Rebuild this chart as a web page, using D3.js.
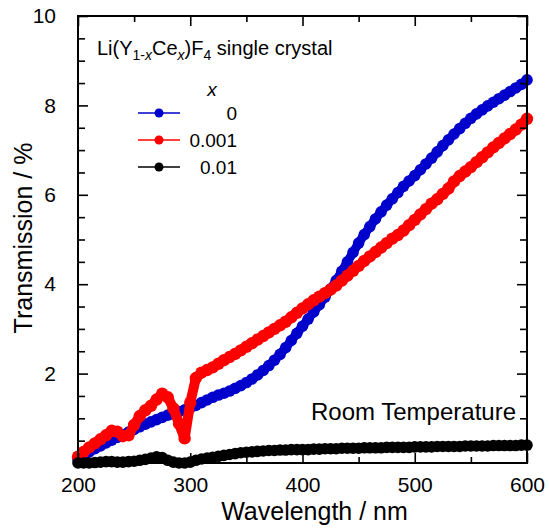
<!DOCTYPE html>
<html lang="en">
  <head>
    <meta charset="UTF-8" />
    <title>Transmission spectra</title>
    <style>
      body { margin: 0; background: #fff; }
      svg { font-family: "Liberation Sans", Arial, sans-serif; }
    </style>
  </head>
  <body>
    <div id="chart"></div>

    <script src="https://d3js.org/d3.v7.min.js"></script>
    <script>

    // wavelengths, every 5 nm from 200 to 600
    var wavelengths = [
      200,205,210,215,220,225,230,235,240,245,250,255,260,265,270,275,280,285,290,295,
      300,305,310,315,320,325,330,335,340,345,350,355,360,365,370,375,380,385,390,395,
      400,405,410,415,420,425,430,435,440,445,450,455,460,465,470,475,480,485,490,495,
      500,505,510,515,520,525,530,535,540,545,550,555,560,565,570,575,580,585,590,595,600
    ];

    // x = 0
    var trans0 = [
      0.08,0.17,0.25,0.32,0.38,0.45,0.51,0.57,0.63,0.69,0.75,0.81,0.87,0.92,0.97,1.02,1.07,1.11,1.15,1.19,
      1.23,1.29,1.35,1.41,1.47,1.52,1.56,1.61,1.67,1.73,1.80,1.88,1.97,2.07,2.18,2.30,2.43,2.58,2.74,2.90,
      3.06,3.22,3.38,3.54,3.71,3.89,4.08,4.29,4.50,4.71,4.92,5.11,5.29,5.46,5.62,5.77,5.91,6.05,6.19,6.31,
      6.43,6.56,6.69,6.82,6.96,7.10,7.23,7.36,7.48,7.60,7.71,7.81,7.90,7.99,8.07,8.15,8.23,8.31,8.39,8.47,8.57
    ];

    // x = 0.001
    var trans001 = [
      0.14,0.25,0.35,0.44,0.53,0.62,0.72,0.70,0.60,0.62,0.85,1.05,1.18,1.28,1.42,1.55,1.47,1.22,0.88,0.55,
      1.35,1.90,2.02,2.08,2.14,2.22,2.30,2.37,2.44,2.52,2.60,2.68,2.76,2.84,2.92,3.00,3.08,3.16,3.26,3.36,
      3.46,3.55,3.64,3.72,3.80,3.88,3.97,4.08,4.19,4.30,4.41,4.52,4.62,4.72,4.82,4.92,5.02,5.10,5.20,5.32,
      5.44,5.56,5.68,5.80,5.90,6.02,6.14,6.30,6.42,6.52,6.62,6.73,6.84,6.95,7.06,7.16,7.26,7.36,7.46,7.57,7.70
    ];

    // x = 0.01
    var trans01 = [
      0.00,0.00,0.00,0.01,0.02,0.03,0.03,0.02,0.02,0.03,0.04,0.06,0.08,0.11,0.14,0.12,0.06,0.02,0.00,0.00,
      0.02,0.06,0.09,0.11,0.13,0.15,0.17,0.19,0.21,0.23,0.24,0.25,0.26,0.27,0.28,0.28,0.29,0.29,0.30,0.30,
      0.30,0.30,0.31,0.31,0.32,0.32,0.32,0.33,0.33,0.33,0.33,0.34,0.34,0.34,0.34,0.35,0.35,0.35,0.35,0.35,
      0.36,0.36,0.36,0.36,0.37,0.37,0.37,0.37,0.37,0.38,0.38,0.38,0.38,0.38,0.39,0.39,0.39,0.39,0.39,0.40,0.40
    ];

    var seriesNames = ["0", "0.001", "0.01"];
    var seriesColors = ["#0000cc", "#ff0000", "#000000"];
    var xMajorTicks = [200, 300, 400, 500, 600];
    var xMinorTicks = [250, 350, 450, 550];
    var yMajorTicks = [2, 4, 6, 8, 10];
    var yMinorTicks = [0.5,1,1.5,2.5,3,3.5,4.5,5,5.5,6.5,7,7.5,8.5,9,9.5];

    // plot box ("top" is taken by window, so px* names)
    var w = 549, h = 530;
    var pxL = 78, pxR = 527, pxT = 16, pxB = 463;

    var svg = d3.select("#chart")
                .append("svg")
                .attr("width", w)
                .attr("height", h);

    var xScale = d3.scaleLinear().domain([200, 600]).range([pxL, pxR]);
    var yScale = d3.scaleLinear().domain([0, 10]).range([pxB, pxT]);

    // the dense markers in the original merge into a thick band:
    // a wide line under big dots gives the same look
    var allSeries = [trans0, trans001, trans01];
    allSeries.forEach(function(vals, i) {
      var pts = wavelengths.map(function(wl, j) { return [wl, vals[j]]; });
      var g = svg.append("g");
      g.append("path")
       .datum(pts)
       .attr("fill", "none")
       .attr("stroke", seriesColors[i])
       .attr("stroke-width", i == 1 ? 10 : 9)
       .attr("stroke-linejoin", "round")
       .attr("stroke-linecap", "round")
       .attr("d", d3.line().x(function(d) { return xScale(d[0]); })
                           .y(function(d) { return yScale(d[1]); }));
      g.selectAll("circle")
       .data(pts)
       .enter()
       .append("circle")
       .attr("cx", function(d) { return xScale(d[0]); })
       .attr("cy", function(d) { return yScale(d[1]); })
       .attr("r", i == 1 ? 6.2 : 5.8)
       .attr("fill", seriesColors[i]);
    });

    // axes, ticks point inward on all four sides
    function styleAxis(g) {
      g.select(".domain").remove();
      g.selectAll(".tick line").attr("stroke", "#000").attr("stroke-width", 1.6);
      g.selectAll(".tick text").attr("font-size", 21).attr("fill", "#000")
       .attr("font-family", "Liberation Sans, Arial, sans-serif");
    }

    svg.append("g")
       .attr("transform", "translate(0," + pxB + ")")
       .call(d3.axisBottom(xScale).tickValues(xMajorTicks).tickSizeInner(-10).tickSizeOuter(0).tickPadding(14))
       .call(styleAxis);
    svg.append("g")
       .attr("transform", "translate(0," + pxB + ")")
       .call(d3.axisBottom(xScale).tickValues(xMinorTicks).tickSizeInner(-6).tickSizeOuter(0).tickFormat(""))
       .call(styleAxis);
    svg.append("g")
       .attr("transform", "translate(0," + pxT + ")")
       .call(d3.axisTop(xScale).tickValues(xMajorTicks).tickSizeInner(-10).tickSizeOuter(0).tickFormat(""))
       .call(styleAxis);
    svg.append("g")
       .attr("transform", "translate(0," + pxT + ")")
       .call(d3.axisTop(xScale).tickValues(xMinorTicks).tickSizeInner(-6).tickSizeOuter(0).tickFormat(""))
       .call(styleAxis);

    svg.append("g")
       .attr("transform", "translate(" + pxL + ",0)")
       .call(d3.axisLeft(yScale).tickValues(yMajorTicks).tickSizeInner(-10).tickSizeOuter(0).tickPadding(22))
       .call(styleAxis);
    svg.append("g")
       .attr("transform", "translate(" + pxL + ",0)")
       .call(d3.axisLeft(yScale).tickValues(yMinorTicks).tickSizeInner(-7).tickSizeOuter(0).tickFormat(""))
       .call(styleAxis);
    svg.append("g")
       .attr("transform", "translate(" + pxR + ",0)")
       .call(d3.axisRight(yScale).tickValues(yMajorTicks).tickSizeInner(-10).tickSizeOuter(0).tickFormat(""))
       .call(styleAxis);
    svg.append("g")
       .attr("transform", "translate(" + pxR + ",0)")
       .call(d3.axisRight(yScale).tickValues(yMinorTicks).tickSizeInner(-7).tickSizeOuter(0).tickFormat(""))
       .call(styleAxis);

    // frame
    svg.append("rect")
       .attr("x", pxL).attr("y", pxT)
       .attr("width", pxR - pxL).attr("height", pxB - pxT)
       .attr("fill", "none")
       .attr("stroke", "#000")
       .attr("stroke-width", 2);

    // axis titles
    svg.append("text")
       .attr("x", (pxL + pxR) / 2 + 12)
       .attr("y", 520)
       .attr("text-anchor", "middle")
       .attr("font-size", 25)
       .text("Wavelength / nm");

    svg.append("text")
       .attr("transform", "translate(32," + 238 + ") rotate(-90)")
       .attr("text-anchor", "middle")
       .attr("font-size", 25)
       .text("Transmission / %");

    // sample label with subscripts
    var lab = svg.append("text")
                 .attr("x", 97)
                 .attr("y", 55)
                 .attr("font-size", 20);
    lab.append("tspan").text("Li(Y");
    lab.append("tspan").attr("font-size", 14).attr("dy", 5).text("1-");
    lab.append("tspan").attr("font-size", 14).attr("font-style", "italic").text("x");
    lab.append("tspan").attr("dy", -5).text("Ce");
    lab.append("tspan").attr("font-size", 14).attr("font-style", "italic").attr("dy", 5).text("x");
    lab.append("tspan").attr("dy", -5).text(")F");
    lab.append("tspan").attr("font-size", 14).attr("dy", 5).text("4");
    lab.append("tspan").attr("dy", -5).text(" single crystal");

    svg.append("text")
       .attr("x", 516)
       .attr("y", 420)
       .attr("text-anchor", "end")
       .attr("font-size", 24)
       .text("Room Temperature");

    // legend
    svg.append("text")
       .attr("x", 212)
       .attr("y", 96)
       .attr("text-anchor", "middle")
       .attr("font-size", 19)
       .attr("font-style", "italic")
       .text("x");

    seriesNames.forEach(function(name, i) {
      var yy = 113 + i * 27;
      svg.append("line")
         .attr("x1", 138).attr("x2", 180)
         .attr("y1", yy).attr("y2", yy)
         .attr("stroke", seriesColors[i])
         .attr("stroke-width", 1.5);
      svg.append("circle")
         .attr("cx", 159).attr("cy", yy)
         .attr("r", 4.5)
         .attr("fill", seriesColors[i]);
      svg.append("text")
         .attr("x", 237)
         .attr("y", yy + 7)
         .attr("text-anchor", "end")
         .attr("font-size", 19)
         .text(name);
    });

    </script>
  </body>
</html>
